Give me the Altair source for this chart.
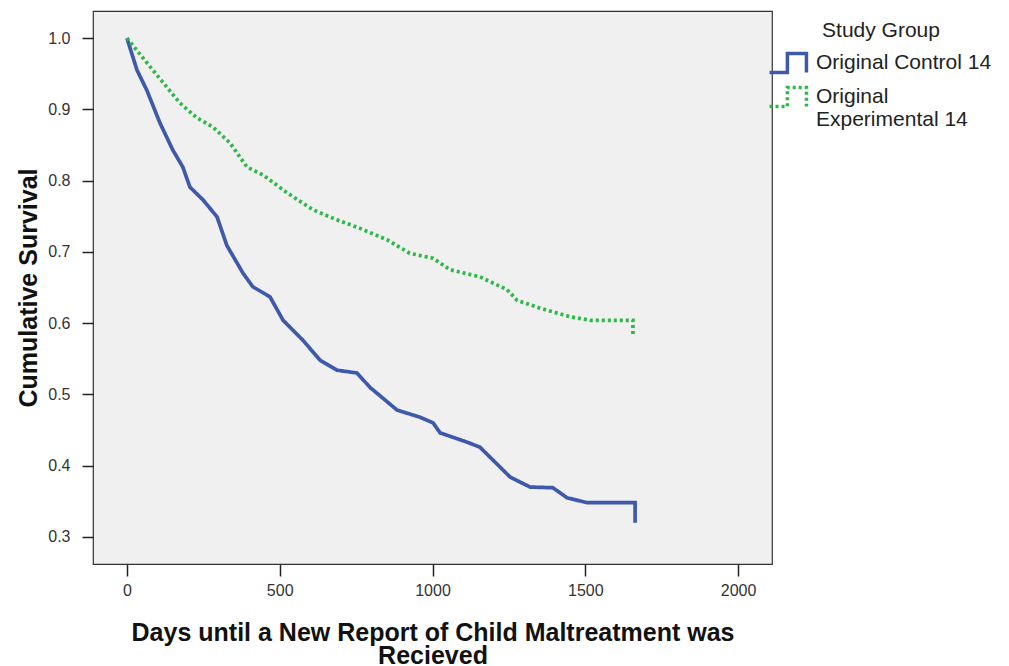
import altair as alt
import pandas as pd

groups = ["Original Control 14", "Original Experimental 14"]
colors = ["#3E58AC", "#2EB848"]

control_days = [0, 33, 65, 108, 150, 183, 206, 249, 295, 327, 380, 412, 468, 511,
                576, 632, 687, 753, 795, 884, 959, 1002, 1025, 1113, 1155, 1254,
                1319, 1394, 1440, 1506, 1663, 1663]
control_surv = [1.0, 0.955, 0.927, 0.881, 0.843, 0.819, 0.791, 0.773, 0.749, 0.709,
                0.670, 0.651, 0.637, 0.604, 0.576, 0.548, 0.534, 0.530, 0.510, 0.478,
                0.468, 0.460, 0.446, 0.433, 0.426, 0.384, 0.370, 0.369, 0.355, 0.348,
                0.348, 0.320]

exp_days = [0, 85, 173, 229, 282, 337, 393, 445, 524, 609, 687, 763, 851, 926,
            1002, 1057, 1155, 1244, 1277, 1352, 1450, 1516, 1656, 1656]
exp_surv = [1.0, 0.955, 0.909, 0.888, 0.875, 0.853, 0.819, 0.808, 0.783, 0.759,
            0.745, 0.733, 0.717, 0.698, 0.691, 0.675, 0.665, 0.647, 0.632, 0.621,
            0.609, 0.604, 0.604, 0.581]

x_ticks = [0, 500, 1000, 1500, 2000]
y_ticks = [0.3, 0.4, 0.5, 0.6, 0.7, 0.8, 0.9, 1.0]

rows = []
for i, (d, s) in enumerate(zip(control_days, control_surv)):
    rows.append({"days": d, "surv": s, "group": groups[0], "idx": i})
for i, (d, s) in enumerate(zip(exp_days, exp_surv)):
    rows.append({"days": d, "surv": s, "group": groups[1], "idx": i})
df = pd.DataFrame(rows)

FONT = "Liberation Sans"

legend = alt.Legend(
    title="Study Group",
    orient="none",
    legendX=678,
    legendY=9,
    padding=0,
    rowPadding=0,
    titleFontSize=21,
    titleFontWeight="normal",
    titleColor="#222222",
    titleAnchor="middle",
    titlePadding=5,
    labelFontSize=21,
    labelColor="#222222",
    labelOffset=11,
    labelLimit=400,
    labelExpr="datum.label == 'Original Experimental 14' ? ['Original', 'Experimental 14'] : datum.label",
    symbolType="M-1.23,0.63L-0.04,0.63L-0.04,-0.63L1.23,-0.63L1.23,0.63",
    symbolSize=900,
    symbolStrokeWidth=3.5,
    symbolFillColor="transparent",
)

chart = alt.Chart(df).mark_line(strokeWidth=3.7, clip=True).encode(
    x=alt.X(
        "days:Q",
        scale=alt.Scale(domain=[-111, 2111], nice=False, zero=False),
        axis=alt.Axis(
            values=x_ticks,
            format="d",
            title=["Days until a New Report of Child Maltreatment was", "Recieved"],
            titleLineHeight=23,
            titlePadding=22,
            labelPadding=6,
            tickSize=12,
        ),
    ),
    y=alt.Y(
        "surv:Q",
        scale=alt.Scale(domain=[0.262, 1.038], nice=False, zero=False),
        axis=alt.Axis(
            values=y_ticks,
            format=".1f",
            title="Cumulative Survival",
            titlePadding=6,
            labelPadding=12,
            tickSize=11,
        ),
    ),
    color=alt.Color("group:N", scale=alt.Scale(domain=groups, range=colors), legend=legend),
    strokeDash=alt.StrokeDash("group:N", scale=alt.Scale(domain=groups, range=[[1, 0], [3, 3]]), legend=legend),
    order="idx:Q",
).properties(
    width=679,
    height=553,
    autosize=alt.AutoSizeParams(type="none"),
    padding={"left": 85, "top": 3, "right": 229, "bottom": 100},
).configure(
    font=FONT,
).configure_view(
    fill="#F0F0F0",
    stroke="#333333",
    strokeWidth=1.2,
).configure_axis(
    grid=False,
    domain=False,
    tickColor="#222222",
    tickWidth=1.5,
    labelFontSize=16,
    labelColor="#333333",
    labelFont=FONT,
    titleFont=FONT,
    titleFontSize=25,
    titleFontWeight="bold",
    titleColor="#111111",
).configure_legend(
    labelFont=FONT,
    titleFont=FONT,
)

chart.save("out.html", embed_options={"renderer": "svg", "actions": False})
